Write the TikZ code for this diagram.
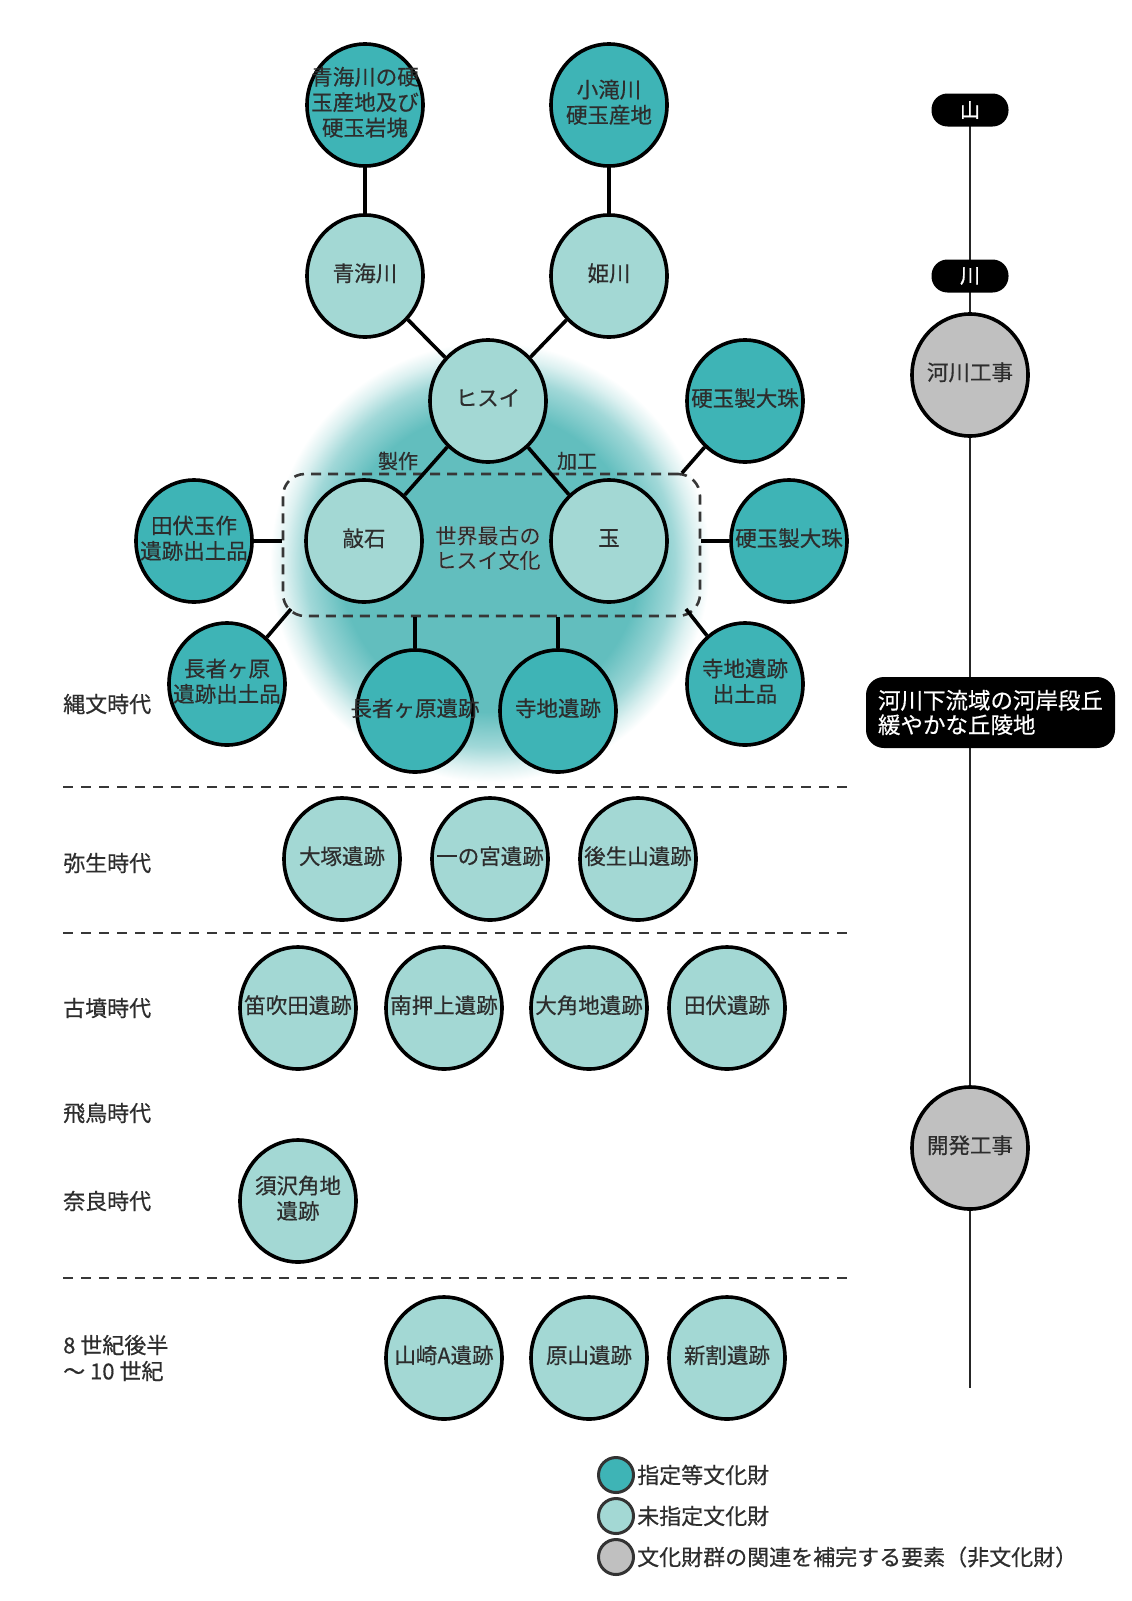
\documentclass[tikz,border=0pt]{standalone}
\usepackage{fontspec}
\setmainfont{Noto Sans CJK JP}[UprightFeatures={FakeBold=0.5}]
\usepackage[outline]{contour}
\usetikzlibrary{shapes.geometric,backgrounds,calc}

\definecolor{tealdark}{RGB}{62,180,182}
\definecolor{teallight}{RGB}{163,216,212}
\definecolor{graynode}{RGB}{192,192,192}
\definecolor{inkc}{RGB}{45,45,45}
\definecolor{glowc}{RGB}{98,190,190}
\definecolor{dashc}{RGB}{55,55,55}

% soft teal halo behind the jade-culture core; the shaded circle is far
% larger than the page (its rim, at 25bp of the shading, lies off the paper)
\pgfdeclareradialshading{hisuiglow}{\pgfpoint{0bp}{0bp}}{%
  color(0bp)=(glowc); color(3bp)=(glowc); color(3.7bp)=(glowc!60!white);
  color(4.1bp)=(glowc!22!white); color(4.4bp)=(white); color(50bp)=(white)}

% centred text of zero width, so long names may overhang the circle
\newcommand{\cl}[1]{\makebox[0pt]{\begin{tabular}{@{}c@{}}#1\end{tabular}}}

\tikzset{
  site/.style={ellipse, draw=black, line width=3.6bp, minimum width=116bp,
    minimum height=122bp, inner sep=0pt, text=inkc,
    font=\fontsize{21.5bp}{24.5bp}\selectfont},
  desig/.style={site, fill=tealdark},
  undesig/.style={site, fill=teallight},
  extra/.style={site, fill=graynode},
  link/.style={line width=3.6bp, black},
  era/.style={anchor=west, align=left, text=inkc, inner sep=0pt,
    font=\fontsize{22bp}{26bp}\selectfont},
  eraline/.style={line width=2.6bp, dashc, dash pattern=on 10bp off 8bp},
  pill/.style={rectangle, rounded corners=16bp, fill=black, text=white,
    minimum width=77bp, minimum height=33bp, inner sep=0pt,
    font=\fontsize{20bp}{24bp}\selectfont},
  spine/.style={line width=2.4bp, black!85},
  keyball/.style={ellipse, draw=black!80, line width=3bp, minimum width=35bp,
    minimum height=35bp, inner sep=0pt},
  keytext/.style={anchor=west, text=inkc, inner sep=0pt,
    font=\fontsize{22bp}{26bp}\selectfont},
  verb/.style={text=inkc, inner sep=0pt, font=\fontsize{20bp}{24bp}\selectfont},
}

\begin{document}
\begin{tikzpicture}[x=1bp, y=-1bp]
\useasboundingbox (0,0) rectangle (1131,1601);

% --- jade culture cluster ---
\node[desig]   (aomiSrc) at (365,105) {\cl{青海川の硬\\玉産地及び\\硬玉岩塊}};
\node[desig]   (kotakiSrc) at (609,105) {\cl{小滝川\\硬玉産地}};
\node[undesig] (aomi) at (365,276) {\cl{青海川}};
\node[undesig] (hime) at (609,276) {\cl{姫川}};
\node[undesig] (hisui) at (488,401) {\cl{ヒスイ}};
\node[desig]   (bead1) at (745,401) {\cl{硬玉製大珠}};

\node[draw=dashc, line width=2.6bp, dash pattern=on 10bp off 7bp,
  rounded corners=22bp, minimum width=417bp, minimum height=142bp,
  inner sep=0pt] (core) at (491.5,545) {};

\node[undesig] (hammer) at (364,541) {\cl{敲石}};
\node[undesig] (gem) at (609,541) {\cl{玉}};
\contourlength{1.6bp}
\node[inner sep=0pt, text=inkc, align=center,
  font=\fontsize{21bp}{24.5bp}\selectfont] (oldest) at (488,548)
  {\contour{white}{世界最古の}\\\contour{white}{ヒスイ文化}};

\node[desig] (tabuseFind) at (194,541) {\cl{田伏玉作\\遺跡出土品}};
\node[desig] (bead2) at (789,541) {\cl{硬玉製大珠}};
\node[desig] (chojaFind) at (227,684) {\cl{長者ヶ原\\遺跡出土品}};
\node[desig] (choja) at (415,711) {\cl{長者ヶ原遺跡}};
\node[desig] (teraji) at (558,711) {\cl{寺地遺跡}};
\node[desig] (terajiFind) at (745,684) {\cl{寺地遺跡\\出土品}};

\coordinate (coreNE) at (682,473);
\coordinate (coreSW) at (291,609);
\coordinate (coreSE) at (686,609);

\draw[link] (aomiSrc) -- (aomi);
\draw[link] (kotakiSrc) -- (hime);
\draw[link] (aomi) -- (hisui);
\draw[link] (hime) -- (hisui);
\draw[link] (hisui) -- (hammer);
\draw[link] (hisui) -- (gem);
\draw[link] (tabuseFind) -- (tabuseFind -| core.west);
\draw[link] (bead2) -- (bead2 -| core.east);
\draw[link] (coreNE) -- (bead1);
\draw[link] (coreSW) -- (chojaFind);
\draw[link] (coreSE) -- (terajiFind);
\draw[link] (choja |- core.south) -- (choja);
\draw[link] (teraji |- core.south) -- (teraji);

\node[verb] (make) at (398,461) {製作};
\node[verb] (work) at (577,461) {加工};

% --- periods ---
\node[era] (jomon) at (63,704) {縄文時代};
\coordinate (d1w) at (63,787);  \coordinate (d1e) at (852,787);
\draw[eraline] (d1w) -- (d1e);
\node[era] (yayoi) at (63,863) {弥生時代};
\coordinate (d2w) at (63,933);  \coordinate (d2e) at (852,933);
\draw[eraline] (d2w) -- (d2e);
\node[era] (kofun) at (63,1008) {古墳時代};
\node[era] (asuka) at (63,1113) {飛鳥時代};
\node[era] (nara) at (63,1201) {奈良時代};
\coordinate (d3w) at (63,1278); \coordinate (d3e) at (852,1278);
\draw[eraline] (d3w) -- (d3e);
\node[era] (late) at (63,1358) {8 世紀後半\\～ 10 世紀};

\node[undesig] (otsuka) at (342,859) {\cl{大塚遺跡}};
\node[undesig] (ichinomiya) at (490,859) {\cl{一の宮遺跡}};
\node[undesig] (goshoyama) at (638,859) {\cl{後生山遺跡}};

\node[undesig] (fuefukida) at (298,1008) {\cl{笛吹田遺跡}};
\node[undesig] (minamioshiage) at (444,1008) {\cl{南押上遺跡}};
\node[undesig] (okakuchi) at (589,1008) {\cl{大角地遺跡}};
\node[undesig] (tabuse) at (727,1008) {\cl{田伏遺跡}};

\node[undesig] (suzawa) at (298,1201) {\cl{須沢角地\\遺跡}};

\node[undesig] (yamazaki) at (444,1358) {\cl{山崎A遺跡}};
\node[undesig] (harayama) at (589,1358) {\cl{原山遺跡}};
\node[undesig] (shinwari) at (727,1358) {\cl{新割遺跡}};

% --- landscape axis ---
\node[pill] (mtn) at (970,110) {山};
\node[pill] (riv) at (970,276) {川};
\node[extra] (riverWork) at (970,375) {\cl{河川工事}};
\node[rectangle, rounded corners=18bp, fill=black, text=white, align=left,
  minimum width=249bp, minimum height=71bp, inner sep=0pt,
  font=\fontsize{22.5bp}{24.5bp}\selectfont] (lowland) at (990.5,712.5)
  {河川下流域の河岸段丘\\緩やかな丘陵地};
\node[extra] (devWork) at (970,1148) {\cl{開発工事}};
\coordinate (spineEnd) at (970,1388);

% --- key ---
\node[keyball, fill=tealdark] (k1) at (616,1475) {};
\node[keytext] (k1t) at (637,1475) {指定等文化財};
\node[keyball, fill=teallight] (k2) at (616,1516) {};
\node[keytext] (k2t) at (637,1516) {未指定文化財};
\node[keyball, fill=graynode] (k3) at (616,1557) {};
\node[keytext] (k3t) at (637,1557) {文化財群の関連を補完する要素（非文化財）};

% --- halo and axis line, underneath everything ---
\begin{scope}[on background layer]
  \fill[shading=hisuiglow] (490,562) circle (1250);
  \draw[spine] (mtn.center) -- (spineEnd);
\end{scope}
\end{tikzpicture}
\end{document}
